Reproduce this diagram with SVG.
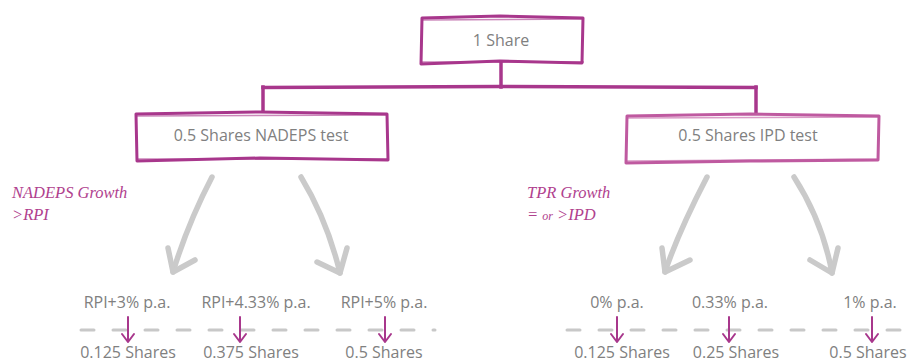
<svg xmlns="http://www.w3.org/2000/svg" width="917" height="363" viewBox="0 0 917 363">
<defs>
<style>
.box{fill:#fff;stroke:#a8378c;stroke-width:3;stroke-linejoin:round}
.box2{fill:none;stroke:#a8378c;stroke-width:1.5;opacity:.6}
.conn{fill:none;stroke:#a8378c;stroke-width:3.5;stroke-linecap:square}
.lbl{font-family:"Open Sans","Liberation Sans",sans-serif;font-size:16px;fill:#808080;text-anchor:middle}
.ital{font-family:"Liberation Serif",serif;font-style:italic;font-size:16.5px;fill:#b0418e}
.garrow{fill:none;stroke:#cacaca;stroke-width:5.5;stroke-linecap:round;stroke-linejoin:round}
.dash{fill:none;stroke:#c8c8c8;stroke-width:3;stroke-dasharray:13 19;stroke-linecap:round}
.parrow{fill:none;stroke:#a8378c;stroke-width:2;stroke-linecap:round;stroke-linejoin:round}
</style>
</defs>
<g id="connectors">
<path class="conn" d="M501,63 L501,87"/>
<path class="conn" d="M263,87.5 L500,86.5 L756,87.5"/>
<path class="conn" d="M263,87 L263,113"/>
<path class="conn" d="M756,87 L756,116"/>
</g>
<g id="node-1share">
<path class="box" d="M422,18 L500,16 L583,18 L582,63 L500,61 L421,64 Z"/>
<path class="box2" d="M423,20 L583,19 M421,62 L584,62"/>
<text class="lbl" x="501" y="46">1 Share</text>
</g>
<g id="node-nadeps">
<path class="box" d="M136,114 L260,112 L387,114 L388,160 L260,158 L137,161 Z"/>
<path class="box2" d="M137,116 L386,115 M136,159 L389,159"/>
<text class="lbl" x="261" y="141">0.5 Shares NADEPS test</text>
</g>
<g id="node-ipd">
<path class="box" d="M627,116 L750,114 L879,116 L878,160 L750,161 L626,163 Z" style="stroke:#bf5aa0"/>
<path class="box2" d="M628,118 L878,117 M627,161 L879,159" style="stroke:#bf5aa0"/>
<text class="lbl" x="748" y="141">0.5 Shares IPD test</text>
</g>
<g id="label-nadeps-growth">
<text class="ital" x="12" y="198">NADEPS Growth</text>
<text class="ital" x="12" y="220">&gt;RPI</text>
</g>
<g id="label-tpr-growth">
<text class="ital" x="527" y="198">TPR Growth</text>
<text class="ital" x="527" y="220">= <tspan font-size="12px">or</tspan> &gt;IPD</text>
</g>
<g id="grey-arrows">
<path class="garrow" d="M212,177 C200,200 184,236 173,272"/>
<path class="garrow" d="M168,248 L173,272 L195,260"/>
<path class="garrow" d="M301,177 C318,205 332,240 340,273"/>
<path class="garrow" d="M317,262 L340,273 L347,248"/>
<path class="garrow" d="M707,177 C694,202 677,236 665,272"/>
<path class="garrow" d="M662,248 L665,272 L690,260"/>
<path class="garrow" d="M794,177 C812,205 826,240 832,273"/>
<path class="garrow" d="M810,260 L832,273 L838,248"/>
</g>
<g id="rates-left">
<text class="lbl" x="127" y="308">RPI+3% p.a.</text>
<text class="lbl" x="256" y="308">RPI+4.33% p.a.</text>
<text class="lbl" x="384" y="308">RPI+5% p.a.</text>
</g>
<g id="rates-right">
<text class="lbl" x="617" y="308">0% p.a.</text>
<text class="lbl" x="730" y="308">0.33% p.a.</text>
<text class="lbl" x="870" y="308">1% p.a.</text>
</g>
<g id="dashes">
<path class="dash" d="M81,330 L435,330"/>
<path class="dash" d="M567,330 L917,330"/>
</g>
<g id="purple-arrows">
<path class="parrow" d="M128,317 L128,342 M122,334 L128,342 L134,334"/>
<path class="parrow" d="M240,317 L240,342 M234,334 L240,342 L246,334"/>
<path class="parrow" d="M385,317 L385,342 M379,334 L385,342 L391,334"/>
<path class="parrow" d="M617,317 L617,342 M611,334 L617,342 L623,334"/>
<path class="parrow" d="M729,317 L729,342 M723,334 L729,342 L735,334"/>
<path class="parrow" d="M872,317 L872,342 M866,334 L872,342 L878,334"/>
</g>
<g id="shares-left">
<text class="lbl" x="128" y="358">0.125 Shares</text>
<text class="lbl" x="251" y="358">0.375 Shares</text>
<text class="lbl" x="384" y="358">0.5 Shares</text>
</g>
<g id="shares-right">
<text class="lbl" x="622" y="358">0.125 Shares</text>
<text class="lbl" x="736" y="358">0.25 Shares</text>
<text class="lbl" x="868" y="358">0.5 Shares</text>
</g>
</svg>
